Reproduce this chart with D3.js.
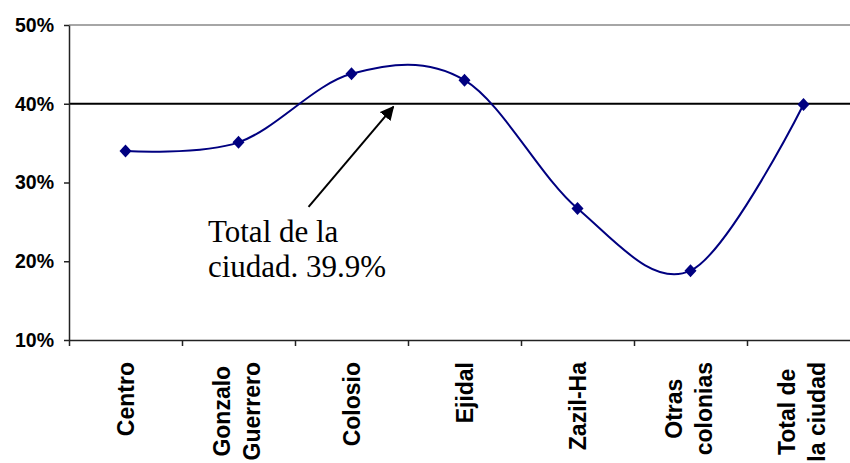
<!DOCTYPE html>
<html>
<head>
<meta charset="utf-8">
<script src="https://cdn.jsdelivr.net/npm/d3@7"></script>
<style>
  html, body { margin: 0; padding: 0; background: #fff; overflow: hidden; }
  svg { display: block; }
</style>
</head>
<body>
<svg id="chart" width="850" height="463"></svg>
<script>
// ---- data ----
const categories = ["Centro", "Gonzalo\nGuerrero", "Colosio", "Ejidal", "Zazil-Ha", "Otras\ncolonias", "Total de\nla ciudad"];
const values = [0.340, 0.351, 0.438, 0.430, 0.267, 0.188, 0.399];
const yTicks = [0.1, 0.2, 0.3, 0.4, 0.5];
const referenceValue = 0.40;
const annotationLines = ["Total de la", "ciudad. 39.9%"];
// annotation anchors in (band units, value)
const arrowFrom = [2.12, 0.269];
const arrowTo = [2.87, 0.396];
const annotationAt = [1.23, 0.225];

// ---- layout ----
const W = 850, H = 463;
const mLeft = 69, mTop = 25, mBottom = 340, plotRight = 860;

const svg = d3.select("#chart");

const x = d3.scaleBand().domain(d3.range(categories.length)).range([mLeft, plotRight]).padding(0);
const xu = d3.scaleLinear().domain([0, categories.length]).range([mLeft, plotRight]);
const y = d3.scaleLinear().domain([0.1, 0.5]).range([mBottom, mTop]);

// top border line
svg.append("line")
  .attr("x1", mLeft).attr("x2", plotRight)
  .attr("y1", y(0.5)).attr("y2", y(0.5))
  .attr("stroke", "#888").attr("stroke-width", 1.5);

// reference line at 40%
svg.append("line")
  .attr("x1", mLeft).attr("x2", plotRight)
  .attr("y1", y(referenceValue)).attr("y2", y(referenceValue))
  .attr("stroke", "#000").attr("stroke-width", 2);

// y axis
const yAxis = svg.append("g")
  .attr("transform", `translate(${mLeft},0)`)
  .call(d3.axisLeft(y).tickValues(yTicks).tickFormat(d3.format(".0%")).tickSize(5).tickSizeOuter(0).tickPadding(10));
yAxis.select(".domain").attr("stroke", "#222").attr("stroke-width", 1.5);
yAxis.selectAll(".tick line").attr("stroke", "#222").attr("stroke-width", 1.5);
yAxis.selectAll(".tick text")
  .attr("fill", "#000")
  .style("font-family", "'Liberation Sans', Arial, sans-serif")
  .style("font-weight", "bold")
  .style("font-size", "19.5px");

// x axis (boundary ticks)
const xAxis = svg.append("g")
  .attr("transform", `translate(0,${mBottom})`)
  .call(d3.axisBottom(xu).tickValues(d3.range(0, categories.length + 1)).tickFormat("").tickSize(6).tickSizeOuter(0));
xAxis.select(".domain").attr("stroke", "#222").attr("stroke-width", 1.5);
xAxis.selectAll(".tick line").attr("stroke", "#222").attr("stroke-width", 1.5);

// x category labels (rotated, multi-line, centered)
const labelTop = 362;
const lineGap = 30;
const labelFont = 23;
categories.forEach((c, i) => {
  const lines = c.split("\n");
  const cx = x(i) + x.bandwidth() / 2;
  const g = svg.append("g");
  const texts = lines.map((ln, k) => g.append("text")
    .text(ln)
    .attr("text-anchor", "middle")
    .style("font-family", "'Liberation Sans', Arial, sans-serif")
    .style("font-weight", "bold")
    .style("font-size", labelFont + "px")
    .attr("fill", "#000"));
  const maxLen = d3.max(texts, t => t.node().getComputedTextLength());
  const cy = labelTop + maxLen / 2;
  texts.forEach((t, k) => {
    const off = (k - (lines.length - 1) / 2) * lineGap - (lines.length > 1 ? 1.5 : 0);
    const lx = cx + off + labelFont * 0.36;
    t.attr("transform", `translate(${lx},${cy}) rotate(-90)`);
  });
});

// smoothed line
const line = d3.line()
  .x((d, i) => x(i) + x.bandwidth() / 2)
  .y(d => y(d))
  .curve(d3.curveCardinal.tension(0));
svg.append("path")
  .datum(values)
  .attr("d", line)
  .attr("fill", "none")
  .attr("stroke", "#000080")
  .attr("stroke-width", 2);

// diamond markers
svg.selectAll("path.marker")
  .data(values)
  .enter().append("path")
  .attr("class", "marker")
  .attr("transform", (d, i) => `translate(${x(i) + x.bandwidth() / 2},${y(d)})`)
  .attr("d", "M0,-6.5L6,0L0,6.5L-6,0Z")
  .attr("fill", "#000080");

// annotation arrow
svg.append("defs").append("marker")
  .attr("id", "ah")
  .attr("viewBox", "0 0 10 10")
  .attr("refX", 9).attr("refY", 5)
  .attr("markerWidth", 7).attr("markerHeight", 7)
  .attr("markerUnits", "strokeWidth")
  .attr("orient", "auto")
  .append("path").attr("d", "M0,0L10,5L0,10Z").attr("fill", "#000");

svg.append("line")
  .attr("x1", xu(arrowFrom[0])).attr("y1", y(arrowFrom[1]))
  .attr("x2", xu(arrowTo[0])).attr("y2", y(arrowTo[1]))
  .attr("stroke", "#000").attr("stroke-width", 2)
  .attr("marker-end", "url(#ah)");

// annotation text
const at = svg.append("text")
  .attr("x", xu(annotationAt[0])).attr("y", y(annotationAt[1]))
  .style("font-family", "'Liberation Serif', 'Times New Roman', serif")
  .style("font-size", "31px")
  .attr("fill", "#000");
annotationLines.forEach((ln, k) => {
  at.append("tspan").attr("x", xu(annotationAt[0])).attr("dy", k === 0 ? 0 : 35).text(ln);
});
</script>
</body>
</html>
